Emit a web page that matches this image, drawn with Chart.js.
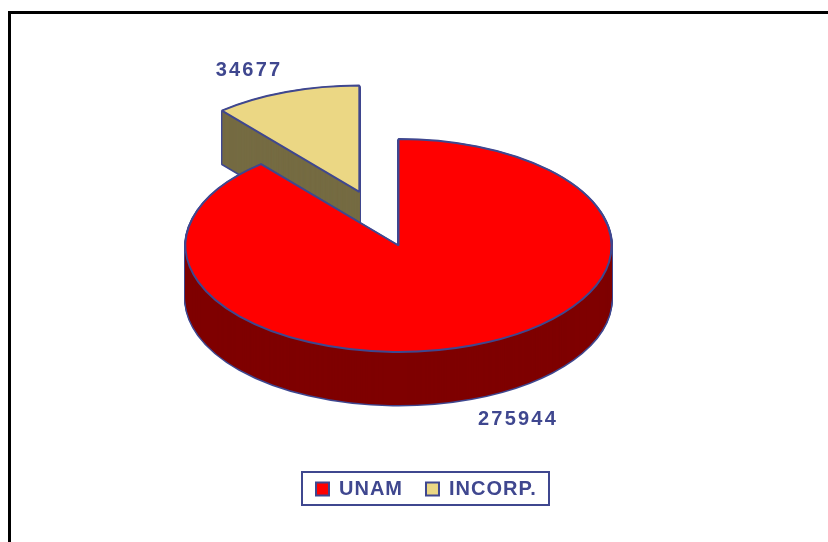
<!DOCTYPE html>
<html>
<head>
<meta charset="utf-8">
<title>UNAM / INCORP.</title>
<script src="https://cdn.jsdelivr.net/npm/chart.js@4/dist/chart.umd.min.js"></script>
<style>
    html, body { margin: 0; padding: 0; background: #ffffff; overflow: hidden; }
    #wrap { position: relative; width: 828px; height: 542px; }
    #frame { position: absolute; left: 8px; top: 11px; right: 0; bottom: 0; border-top: 3px solid #000000; border-left: 3px solid #000000; }
    #pie { position: absolute; left: 0; top: 0; }
</style>
</head>
<body>
<div id="wrap">
    <div id="frame"></div>
    <canvas id="pie" width="828" height="542"></canvas>
</div>
<script>
// Chart data (INCORP. first so the big slice is painted over it)
const categories = ['INCORP.', 'UNAM'];
const students = [34677, 275944];
const sliceColors = ['#ebd784', '#ff0000'];
const sideColors = ['#756b42', '#7f0000'];
const outlineColor = '#3f478f';

// Look of the fake 3D pie
const pieCenter = { x: 398.5, y: 245.5 };
const squash = 0.5;
const depth = 53;
const explode = [114, 0];
const valueLabels = [{ x: 249, y: 70 }, { x: 518, y: 419 }];
const legendBox = { left: 302, top: 472, right: 549, bottom: 505 };
const legendPadding = 23;

const total = students.reduce((a, b) => a + b, 0);

// Paint one arc element inside the squashed space, line width stays even
function paintArc(ctx, arc, i, shiftY, overrides) {
    const saved = arc.options;
    const mid = (arc.startAngle + arc.endAngle) / 2;
    arc.options = Object.assign({}, saved, overrides);
    const rawStroke = ctx.stroke;
    ctx.stroke = function () {
        ctx.save();
        ctx.setTransform(1, 0, 0, 1, 0, 0);
        rawStroke.call(ctx);
        ctx.restore();
    };
    ctx.save();
    ctx.translate(pieCenter.x + Math.cos(mid) * explode[i], pieCenter.y + Math.sin(mid) * explode[i] * squash + shiftY);
    ctx.scale(1, squash);
    ctx.translate(-arc.x, -arc.y);
    arc.draw(ctx);
    ctx.restore();
    delete ctx.stroke;
    arc.options = saved;
}

const pie3d = {
    id: 'pie3d',
    beforeUpdate(chart) {
        chart.ctx.letterSpacing = '1px';
    },
    afterLayout(chart) {
        // Legend sits off centre in the reference, items start after the padding
        const legend = chart.legend;
        legend.left = 316 - legendPadding;
        legend.right = 800;
        legend.top = 479 - legendPadding;
        legend.bottom = legend.top + legend.height;
    },
    beforeDatasetDraw(chart, args) {
        const ctx = chart.ctx;
        args.meta.data.forEach((arc, i) => {
            // Outline of the side walls first, fill covers the inner half
            for (let d = depth; d > 0; d--) {
                paintArc(ctx, arc, i, d, { backgroundColor: outlineColor, borderColor: outlineColor, borderWidth: 3 });
            }
            for (let d = depth; d > 0; d--) {
                paintArc(ctx, arc, i, d, { backgroundColor: sideColors[i], borderWidth: 0 });
            }
            paintArc(ctx, arc, i, 0, {});
        });
        return false;
    },
    afterDraw(chart) {
        const ctx = chart.ctx;
        ctx.save();
        ctx.strokeStyle = outlineColor;
        ctx.lineWidth = 2;
        ctx.strokeRect(legendBox.left, legendBox.top, legendBox.right - legendBox.left, legendBox.bottom - legendBox.top);

        ctx.fillStyle = outlineColor;
        ctx.font = 'bold 20px "Liberation Sans"';
        ctx.letterSpacing = '2.2px';
        ctx.textAlign = 'center';
        ctx.textBaseline = 'middle';
        students.forEach((v, i) => {
            ctx.fillText(String(v), valueLabels[i].x, valueLabels[i].y);
        });
        ctx.restore();
    }
};

new Chart(document.getElementById('pie'), {
    type: 'pie',
    data: {
        labels: categories,
        datasets: [{
            data: students,
            backgroundColor: sliceColors,
            borderColor: outlineColor,
            borderWidth: 2
        }]
    },
    options: {
        responsive: false,
        animation: false,
        radius: 213,
        rotation: -360 * students[0] / total,
        layout: { padding: 0 },
        plugins: {
            tooltip: { enabled: false },
            legend: {
                position: 'bottom',
                align: 'start',
                reverse: true,
                labels: {
                    boxWidth: 13,
                    boxHeight: 13,
                    padding: legendPadding,
                    color: outlineColor,
                    font: { family: '"Liberation Sans"', size: 20, weight: 'bold' }
                }
            }
        }
    },
    plugins: [pie3d]
});
</script>
</body>
</html>
